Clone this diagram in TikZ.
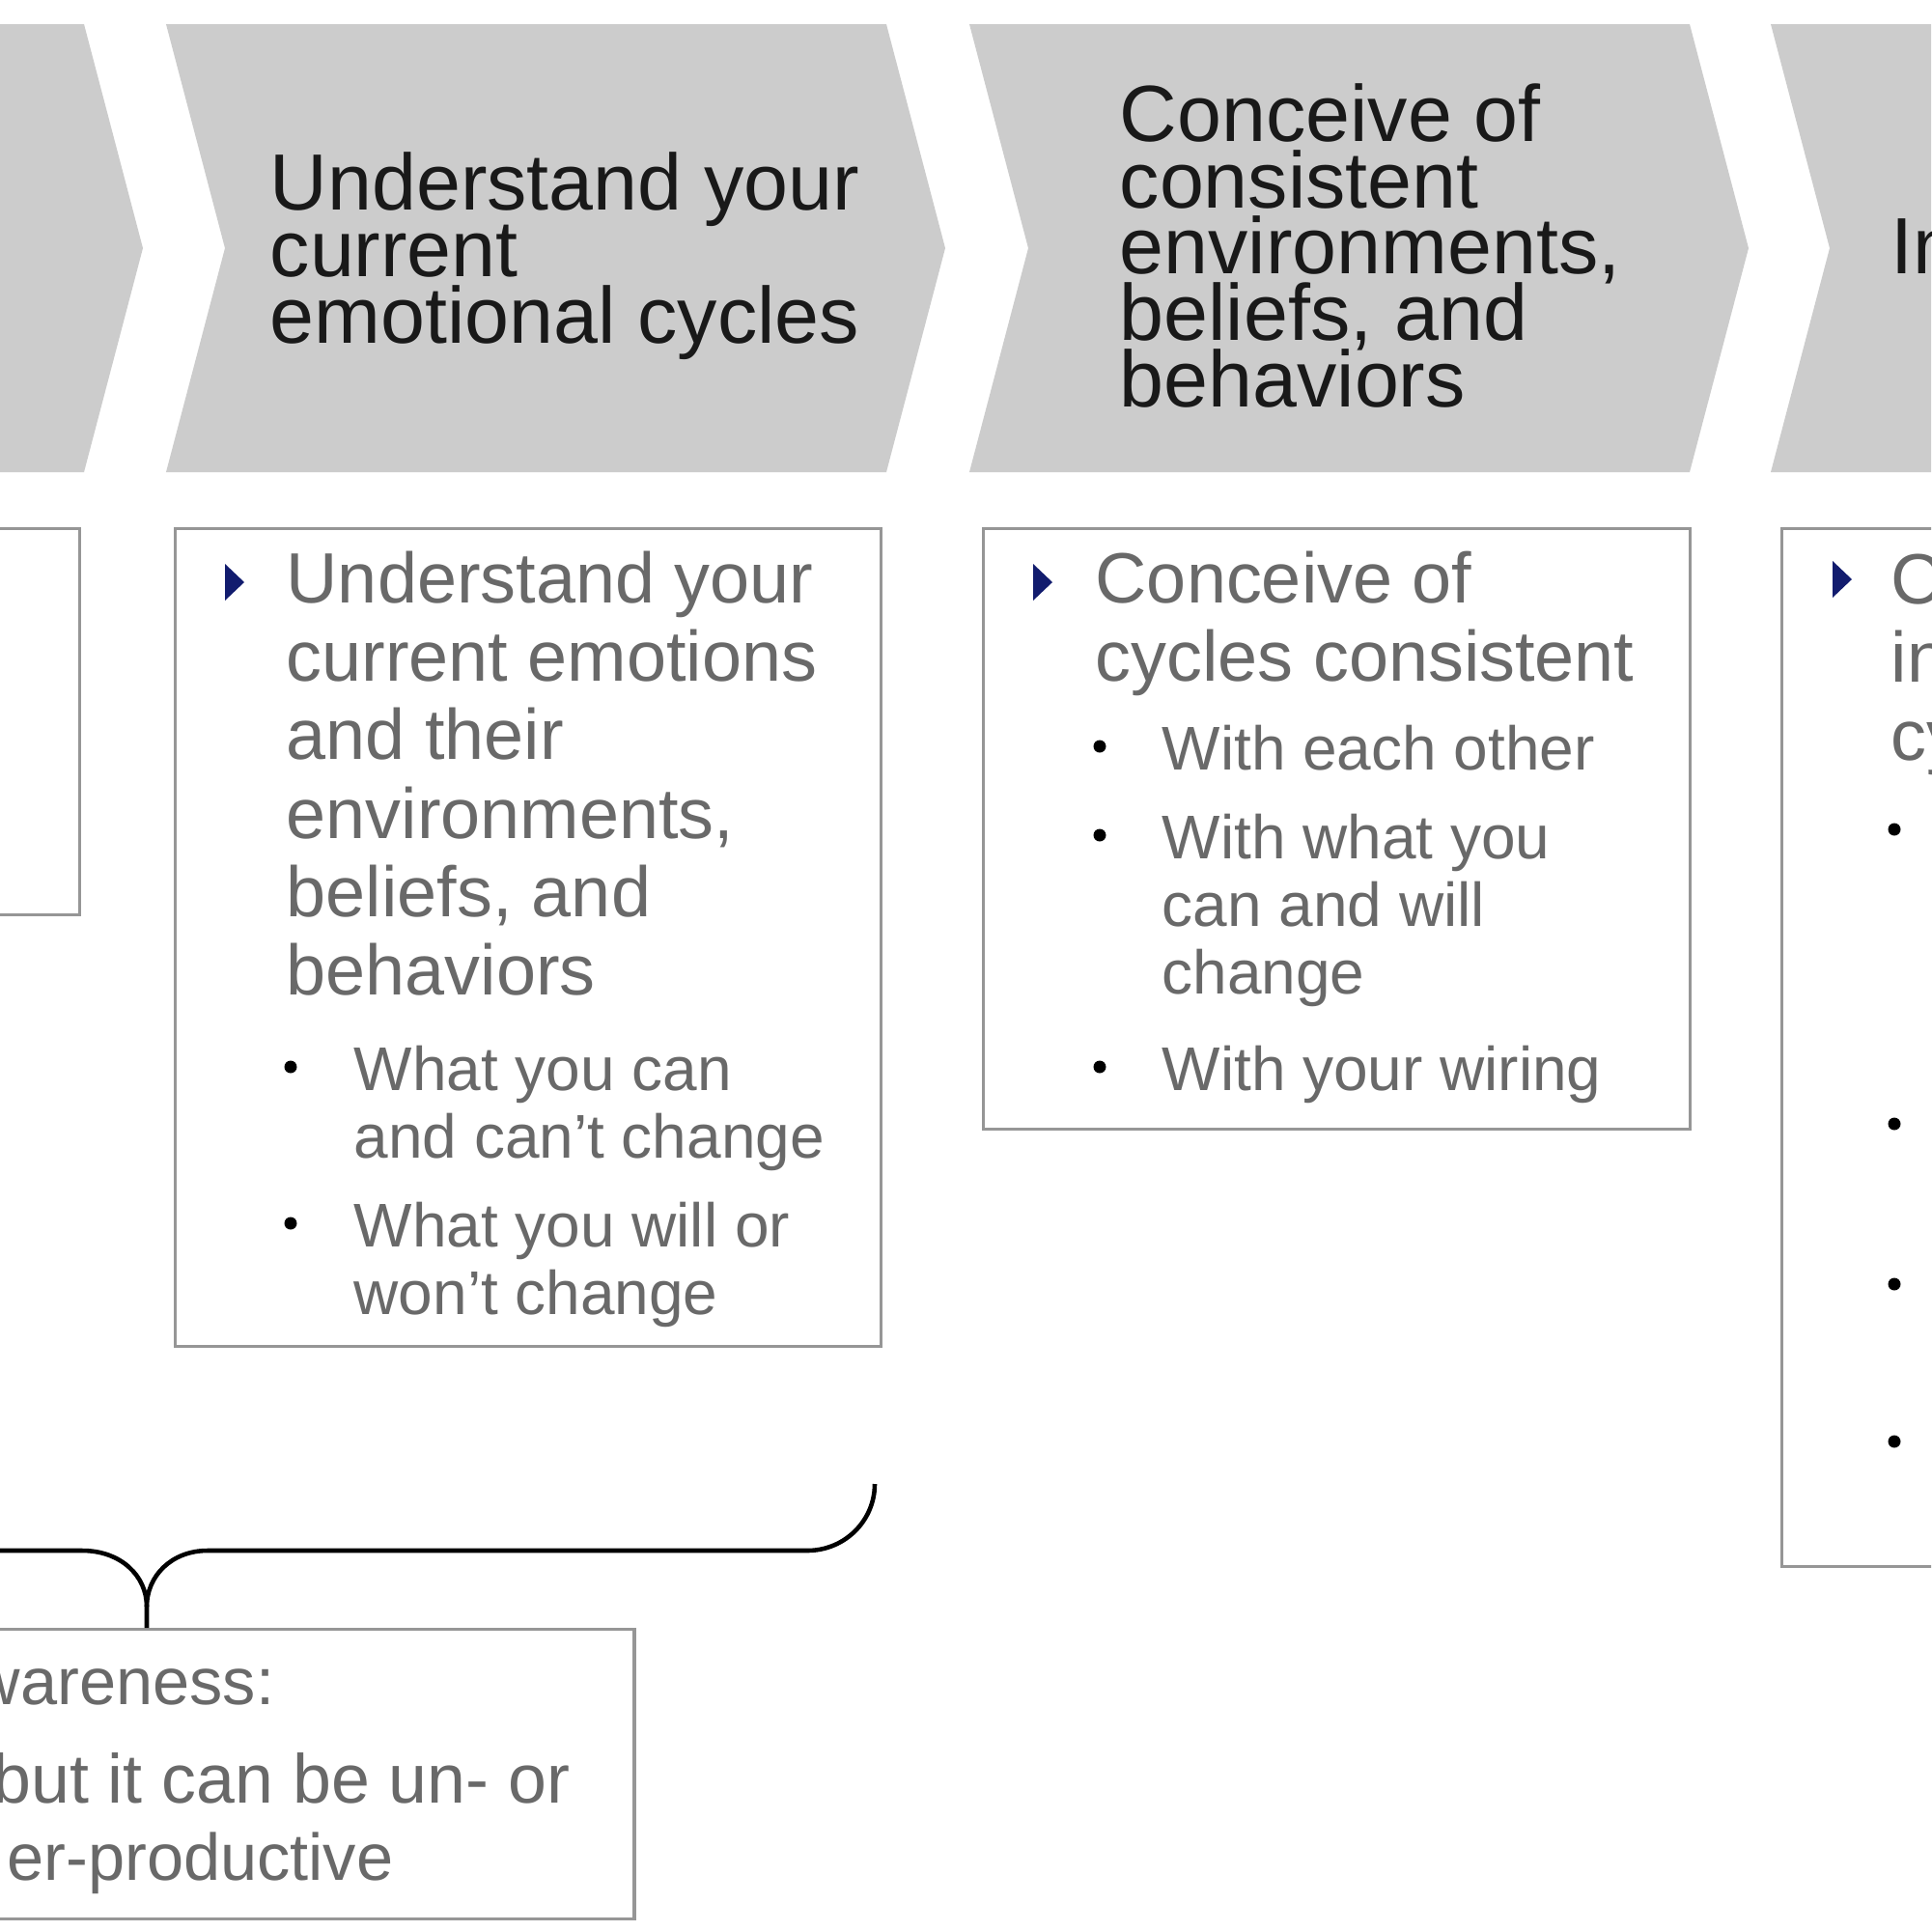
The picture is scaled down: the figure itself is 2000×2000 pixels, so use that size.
\documentclass[tikz,border=0pt]{standalone}
\usepackage{fontspec}
\setmainfont{Liberation Sans}
\definecolor{chevfill}{RGB}{204,204,204}
\definecolor{cardline}{RGB}{150,150,150}
\definecolor{bodytext}{RGB}{105,105,105}
\definecolor{navy}{RGB}{18,28,110}
\newcommand\itemtri[2]{\fill[navy] (#1-10,#2-19) -- (#1+10,#2) -- (#1-10,#2+19) -- cycle;}
\newcommand\subdot[2]{\fill (#1,#2) circle (6.5);}
\newcommand\headfont{\fontsize{23.5pt}{19.5pt}\selectfont\lineskiplimit-40pt\relax}

\begin{document}
\begin{tikzpicture}[x=0.1mm,y=-0.1mm,
  chev/.style={fill=chevfill},
  card/.style={draw=cardline, line width=0.9pt, inner sep=0pt},
  heading/.style={anchor=base west, align=left, inner sep=0pt, text=black!90,
    font=\headfont},
  mainitem/.style={anchor=base west, align=left, inner sep=0pt, text=bodytext,
    font=\fontsize{21pt}{23.05pt}\selectfont},
  subitem/.style={anchor=base west, align=left, inner sep=0pt, text=bodytext,
    font=\fontsize{18.2pt}{19.9pt}\selectfont},
  note/.style={anchor=base east, inner sep=0pt, text=bodytext,
    font=\fontsize{19.5pt}{22pt}\selectfont},
  brace/.style={line width=1.3pt}]
  \useasboundingbox (0,0) rectangle (2000,2000);
  \fill[white] (0,0) rectangle (2000,2000);
  \clip (0,0) rectangle (2000,2000);

  % chevrons (base of a text node = its last line)
  \foreach \l in {-659,172,1004,1834}
    \fill[chev] (\l,25) -- ++(746,0) -- ++(61,232) -- ++(-61,232) -- ++(-746,0) -- ++(61,-232) -- cycle;
  \node[heading] (h2) at (279,355) {Understand your\\current\\emotional cycles};
  \node[heading] (h3) at (1159,421) {Conceive of\\consistent\\environments,\\beliefs, and\\behaviors};
  \node[heading] (h4) at (1958,283) {Im};

  % boxes
  \node[card, minimum width=73.1mm, minimum height=40mm, anchor=north east] (box1) at (84,546) {};
  \node[card, minimum width=73.1mm, minimum height=84.7mm, anchor=north west] (box2) at (180,546) {};
  \node[card, minimum width=73.2mm, minimum height=62.2mm, anchor=north west] (box3) at (1017,546) {};
  \node[card, minimum width=73.1mm, minimum height=107.5mm, anchor=north west] (box4) at (1844,546) {};

  % box 2
  \itemtri{243}{603}
  \node[mainitem] (b2main) at (296,1030) {Understand your\\current emotions\\and their\\environments,\\beliefs, and\\behaviors};
  \subdot{301}{1105}
  \node[subitem] (b2sub1) at (366,1199) {What you can\\and can't change};
  \subdot{301}{1267}
  \node[subitem] (b2sub2) at (366,1361) {What you will or\\won't change};

  % box 3
  \itemtri{1080}{603}
  \node[mainitem] (b3main) at (1134,705) {Conceive of\\cycles consistent};
  \subdot{1139}{773}
  \node[subitem] (b3sub1) at (1203,797) {With each other};
  \subdot{1139}{865}
  \node[subitem] (b3sub2) at (1203,1029) {With what you\\can and will\\change};
  \subdot{1139}{1105}
  \node[subitem] (b3sub3) at (1203,1129) {With your wiring};

  % box 4
  \itemtri{1908}{600}
  \node[mainitem] (b4main) at (1958,787) {C\\in\\cy};
  \foreach \y in {859,1164,1330,1493} {\subdot{1962}{\y}}

  % brace and note
  \node[card, minimum width=101mm, minimum height=30mm, anchor=north] (aware) at (152,1686) {};
  \coordinate (tip) at (152,1664);
  \draw[brace] (-20,1606) -- (85,1606) .. controls (125,1606) and (152,1632) .. (tip) -- (aware.north);
  \draw[brace] (tip) .. controls (152,1632) and (178,1606) .. (215,1606) -- (836,1606)
    .. controls (875,1606) and (906,1575) .. (906,1537);
  \node[note] (aw1) at (285,1765) {wareness:};
  \node[note, font=\fontsize{20.4pt}{22pt}\selectfont] (aw2) at (591,1867) {but it can be un- or};
  \node[note] (aw3) at (408,1947) {er-productive};
\end{tikzpicture}
\end{document}
